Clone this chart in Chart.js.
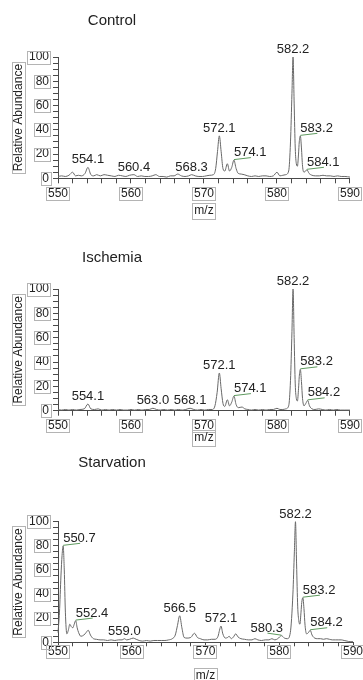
<!DOCTYPE html>
<html>
<head>
<meta charset="utf-8">
<script src="https://cdn.jsdelivr.net/npm/chart.js@4.4.1/dist/chart.umd.min.js"></script>
<style>
  html, body { margin: 0; padding: 0; background: #fff; width: 363px; height: 680px; overflow: hidden; }
  canvas { position: absolute; left: 0; }
</style>
</head>
<body>
<canvas id="c1"></canvas>
<canvas id="c2"></canvas>
<canvas id="c3"></canvas>
<script>
// ---- axis ranges and tick spacing ----
const MZ_MIN = 550, MZ_MAX = 590, MZ_STEP = 2, MZ_LABEL_EVERY = 10;
const AB_MIN = 0, AB_MAX = 100, AB_STEP = 5, AB_LABEL_EVERY = 20;
const panelTitles = ['Control', 'Ischemia', 'Starvation'];
const xAxisTitle = 'm/z';
const yAxisTitle = 'Relative Abundance';

// ---- Control spectrum ----
const controlMz = [550.0, 550.5, 551.0, 551.5, 552.0, 552.4, 552.8, 553.2, 553.7, 554.1, 554.5, 554.9, 555.3, 555.8, 556.3, 556.8, 557.3, 557.8, 558.3, 558.8, 559.3, 559.8, 560.4, 560.9, 561.4, 561.9, 562.4, 562.9, 563.4, 563.9, 564.4, 564.9, 565.4, 565.9, 566.4, 566.9, 567.4, 567.9, 568.3, 568.8, 569.3, 569.8, 570.3, 570.8, 571.3, 571.6, 571.85, 572.1, 572.35, 572.6, 572.85, 573.2, 573.5, 573.8, 574.1, 574.4, 574.7, 575.1, 575.5, 576.0, 576.5, 577.0, 577.5, 578.0, 578.5, 579.0, 579.5, 580.0, 580.4, 580.8, 581.2, 581.6, 581.85, 582.05, 582.2, 582.35, 582.5, 582.65, 582.8, 582.95, 583.05, 583.2, 583.35, 583.5, 583.7, 584.1, 584.4, 584.8, 585.3, 585.8, 586.3, 586.8, 587.3, 587.8, 588.3, 588.8, 589.3, 590.0];
const controlAbundance = [1.5, 2, 1.5, 2.5, 5, 2, 2.5, 2, 4, 9, 3, 2, 3, 2, 3, 2.5, 2, 1.5, 2.5, 2, 1.5, 2.5, 3, 1.5, 2, 1.5, 1.5, 2, 3, 1.5, 1.5, 1, 2, 2, 3.5, 2, 1.5, 2, 3, 2, 1.5, 1.5, 2, 2.5, 3, 8, 22, 35, 22, 8, 6, 12, 6, 9, 15, 8, 4, 3.5, 3, 2, 1.5, 2, 1.5, 2, 2, 1.5, 2, 5, 2, 2.5, 3, 6, 30, 70, 100, 62, 25, 12, 10, 20, 30, 35, 25, 10, 5, 7, 4, 2.5, 2, 2, 2.5, 2, 2, 1.5, 2, 1.5, 1.5, 1];
const controlPeaks = [554.1, 560.4, 568.3, 572.1, 574.1, 582.2, 583.2, 584.1];

// ---- Ischemia spectrum ----
const ischemiaMz = [550.0, 550.5, 551.0, 551.5, 552.0, 552.5, 553.0, 553.6, 554.1, 554.5, 555.0, 555.5, 556.0, 556.5, 557.0, 557.5, 558.0, 558.5, 559.0, 559.5, 560.0, 560.5, 561.0, 561.5, 562.0, 562.5, 563.0, 563.5, 564.0, 564.5, 565.0, 565.5, 566.0, 566.5, 567.0, 567.5, 568.1, 568.6, 569.1, 569.6, 570.1, 570.6, 571.1, 571.5, 571.8, 572.1, 572.35, 572.6, 572.85, 573.2, 573.5, 573.8, 574.1, 574.4, 574.7, 575.2, 575.6, 576.0, 576.5, 577.0, 577.5, 578.0, 578.5, 579.0, 579.5, 580.0, 580.4, 580.8, 581.2, 581.6, 581.85, 582.05, 582.2, 582.35, 582.5, 582.65, 582.8, 582.95, 583.05, 583.2, 583.35, 583.5, 583.7, 583.95, 584.2, 584.45, 584.8, 585.2, 585.7, 586.2, 586.7, 587.2, 587.7, 588.2, 588.7, 589.2, 590.0];
const ischemiaAbundance = [1, 0.5, 1, 0.5, 1, 0.5, 1, 1.5, 5.5, 1.5, 1, 1.5, 0.5, 1, 0.5, 1, 0.5, 1, 0.5, 0.5, 1, 0.5, 1, 0.5, 1, 1, 2, 1, 0.5, 1, 0.5, 1, 0.5, 1, 0.5, 1, 2, 1, 0.5, 1, 0.5, 1, 1, 4, 15, 31, 18, 6, 3.5, 9, 4, 7, 12, 5, 2.5, 3, 1.5, 1, 0.5, 1, 0.5, 1, 0.5, 1, 1, 2, 1, 1, 1.5, 4, 25, 65, 100, 60, 22, 10, 8, 18, 28, 34, 24, 10, 4, 6, 8.5, 4, 1.5, 1, 1.5, 1, 0.5, 1, 0.5, 1, 0.5, 0.5, 0.5];
const ischemiaPeaks = [554.1, 563.0, 568.1, 572.1, 574.1, 582.2, 583.2, 584.2];

// ---- Starvation spectrum ----
const starvationMz = [550.0, 550.2, 550.4, 550.55, 550.7, 550.85, 551.0, 551.2, 551.4, 551.6, 551.8, 552.0, 552.2, 552.4, 552.6, 552.8, 553.1, 553.5, 553.8, 554.1, 554.4, 554.8, 555.2, 555.7, 556.2, 556.7, 557.2, 557.7, 558.2, 558.7, 559.0, 559.3, 559.7, 560.2, 560.6, 561.0, 561.5, 562.0, 562.5, 563.0, 563.5, 564.0, 564.5, 565.0, 565.5, 565.9, 566.2, 566.5, 566.8, 567.1, 567.5, 568.0, 568.5, 568.9, 569.3, 569.8, 570.3, 570.8, 571.3, 571.7, 571.9, 572.1, 572.35, 572.7, 573.0, 573.2, 573.5, 573.8, 574.1, 574.4, 574.8, 575.3, 575.8, 576.3, 576.7, 577.1, 577.6, 578.1, 578.6, 579.0, 579.4, 579.8, 580.3, 580.7, 581.1, 581.5, 581.85, 582.05, 582.2, 582.35, 582.5, 582.65, 582.8, 582.95, 583.05, 583.2, 583.35, 583.5, 583.7, 583.95, 584.2, 584.45, 584.8, 585.2, 585.6, 586.0, 586.4, 586.8, 587.2, 587.6, 588.0, 588.4, 588.8, 589.2, 589.6, 590.0];
const starvationAbundance = [8, 25, 55, 72, 80, 60, 25, 7, 10, 15, 13, 12, 15, 18, 12, 8, 5, 6, 8, 10, 6, 3, 2.5, 2, 2, 1.5, 2, 1.5, 2, 2, 3, 2, 2.5, 3.5, 2.5, 1.5, 1, 1.5, 1, 1.5, 1.5, 1.5, 1.5, 2, 3, 6, 14, 22, 12, 4, 3.5, 4, 7.5, 4, 3, 2, 2, 2.5, 2.5, 5, 10, 13.5, 7, 3.5, 4, 5, 3, 4.5, 7, 4.5, 3, 2.5, 2, 2, 3, 2, 1.5, 2, 2, 3, 2, 3, 5.5, 3.5, 3, 8, 40, 75, 100, 65, 30, 18, 15, 25, 33, 37, 28, 14, 7, 8, 10, 6, 3.5, 3, 3, 2.5, 3, 2.5, 2, 2, 2, 2, 1.5, 1, 0.5, 0.5];
const starvationPeaks = [550.7, 552.4, 559.0, 566.5, 572.1, 580.3, 582.2, 583.2, 584.2];

// ---- styling ----
const FONT = '"Liberation Sans", Arial, Helvetica, sans-serif';
const TEXT = '#222222';
const AXIS = '#4a4a4a';
const TRACE = '#686868';
const BOX = '#b4b4b4';
const CALLOUT = '#5f9a5f';

// page placement of each panel (canvas offset/height, plot top/bottom inside canvas)
const layouts = [
  { top: 0,   height: 222, plotTop: 57,   plotBottom: 178.3, titleY: 20.5, xTitleY: 211, tickLen: 5, tickPad: 3 },
  { top: 222, height: 226, plotTop: 67,   plotBottom: 188.7, titleY: 36,   xTitleY: 216, tickLen: 5, tickPad: 3 },
  { top: 448, height: 232, plotTop: 73.7, plotBottom: 194.3, titleY: 14.5, xTitleY: 228, tickLen: 4, tickPad: -2 }
];
// peaks whose labels sit beside a short leader line
const callouts = [
  { 574.1: 'right', 583.2: 'right', 584.1: 'right' },
  { 574.1: 'right', 583.2: 'right', 584.2: 'right' },
  { 550.7: 'right', 552.4: 'right', 580.3: 'left', 583.2: 'right', 584.2: 'right' }
];

const series = [
  { mz: controlMz, ab: controlAbundance, peaks: controlPeaks },
  { mz: ischemiaMz, ab: ischemiaAbundance, peaks: ischemiaPeaks },
  { mz: starvationMz, ab: starvationAbundance, peaks: starvationPeaks }
];

function boxAround(ctx, x, y, w, h) {
  ctx.strokeRect(Math.round(x) + 0.5, Math.round(y) + 0.5, Math.round(w), Math.round(h));
}

// Draws panel title, axis titles, boxed tick labels and peak annotations
const spectrumDecor = {
  id: 'spectrumDecor',
  afterDraw(chart, args, opts) {
    const ctx = chart.ctx;
    const area = chart.chartArea;
    const xs = chart.scales.x, ys = chart.scales.y;
    const L = opts.layout;
    ctx.save();

    // panel title
    ctx.fillStyle = TEXT;
    ctx.font = '15px ' + FONT;
    ctx.textAlign = 'center';
    ctx.textBaseline = 'middle';
    ctx.fillText(opts.title, 112, L.titleY);

    ctx.strokeStyle = BOX;
    ctx.lineWidth = 1;

    // boxes around x tick labels
    ctx.font = '12px ' + FONT;
    const xMid = area.bottom + L.tickLen + L.tickPad + 7.2;
    xs.ticks.forEach(t => {
      if (t.label === '' || t.label == null) return;
      const px = xs.getPixelForValue(t.value);
      const w = ctx.measureText(t.label).width;
      boxAround(ctx, px - w / 2 - 2, xMid - 6.5, w + 3, 13);
    });
    // boxes around y tick labels
    const yRight = area.left - 5 - 4;
    ys.ticks.forEach(t => {
      if (t.label === '' || t.label == null) return;
      const py = ys.getPixelForValue(t.value);
      const w = ctx.measureText(t.label).width;
      boxAround(ctx, yRight - w - 1.5, py - 6.5, w + 3, 13);
    });

    // x axis title
    const cx = (area.left + area.right) / 2;
    const mw = ctx.measureText(xAxisTitle).width;
    ctx.fillStyle = TEXT;
    ctx.textAlign = 'center';
    ctx.textBaseline = 'middle';
    ctx.fillText(xAxisTitle, cx, L.xTitleY);
    boxAround(ctx, cx - mw / 2 - 2, L.xTitleY - 8, mw + 4, 16);

    // y axis title (rotated)
    const cy = (area.top + area.bottom) / 2;
    const yw = ctx.measureText(yAxisTitle).width;
    ctx.save();
    ctx.translate(18.5, cy);
    ctx.rotate(-Math.PI / 2);
    ctx.fillText(yAxisTitle, 0, 0);
    ctx.restore();
    boxAround(ctx, 12, cy - yw / 2 - 2, 13, yw + 4);

    // peak annotations
    ctx.font = '13px ' + FONT;
    ctx.textBaseline = 'alphabetic';
    const s = opts.series;
    s.peaks.forEach(p => {
      const i = s.mz.indexOf(p);
      if (i < 0) return;
      const px = xs.getPixelForValue(p);
      const py = ys.getPixelForValue(s.ab[i]);
      const label = p.toFixed(1);
      const side = opts.callouts[p];
      ctx.fillStyle = TEXT;
      if (side === 'right') {
        ctx.strokeStyle = CALLOUT;
        ctx.beginPath();
        ctx.moveTo(px, py - 0.5);
        ctx.lineTo(px + 17, py - 2.5);
        ctx.stroke();
        ctx.textAlign = 'left';
        ctx.fillText(label, px, py - 4);
      } else if (side === 'left') {
        ctx.strokeStyle = CALLOUT;
        ctx.beginPath();
        ctx.moveTo(px, py - 0.5);
        ctx.lineTo(px - 14, py - 2.5);
        ctx.stroke();
        ctx.textAlign = 'right';
        ctx.fillText(label, px + 1.5, py - 3.5);
      } else {
        ctx.textAlign = 'center';
        ctx.fillText(label, px, py - 4);
      }
    });
    ctx.restore();
  }
};

series.forEach((s, k) => {
  const L = layouts[k];
  const canvas = document.getElementById('c' + (k + 1));
  canvas.width = 363;
  canvas.height = L.height;
  canvas.style.top = L.top + 'px';
  canvas.style.width = '363px';
  canvas.style.height = L.height + 'px';

  new Chart(canvas, {
    type: 'line',
    data: {
      datasets: [{
        data: s.mz.map((m, i) => ({ x: m, y: s.ab[i] })),
        borderColor: TRACE,
        borderWidth: 1,
        pointRadius: 0,
        fill: false,
        cubicInterpolationMode: 'monotone',
        clip: false
      }]
    },
    options: {
      responsive: false,
      animation: false,
      devicePixelRatio: 1,
      layout: { padding: { top: L.plotTop, left: 0, right: 10, bottom: 0 } },
      plugins: {
        legend: { display: false },
        tooltip: { enabled: false },
        title: { display: false },
        spectrumDecor: { title: panelTitles[k], layout: L, series: s, callouts: callouts[k] }
      },
      scales: {
        x: {
          type: 'linear',
          min: MZ_MIN, max: MZ_MAX,
          afterFit(scale) { scale.height = L.height - L.plotBottom; },
          border: { display: true, color: AXIS, width: 1 },
          grid: { drawOnChartArea: false, drawTicks: true, tickLength: L.tickLen, tickColor: AXIS, tickWidth: 1 },
          ticks: {
            stepSize: MZ_STEP, autoSkip: false, maxRotation: 0, minRotation: 0,
            padding: L.tickPad, color: TEXT, font: { family: FONT, size: 12 },
            callback: v => (v % MZ_LABEL_EVERY === 0 ? String(v) : '')
          }
        },
        y: {
          type: 'linear',
          min: AB_MIN, max: AB_MAX,
          afterFit(scale) { scale.width = 58; },
          border: { display: true, color: AXIS, width: 1 },
          grid: { drawOnChartArea: false, drawTicks: true, tickLength: 5, tickColor: AXIS, tickWidth: 1 },
          ticks: {
            stepSize: AB_STEP, autoSkip: false,
            padding: 4, color: TEXT, font: { family: FONT, size: 12 },
            callback: v => (v % AB_LABEL_EVERY === 0 ? String(v) : '')
          }
        }
      }
    },
    plugins: [spectrumDecor]
  });
});
</script>
</body>
</html>
